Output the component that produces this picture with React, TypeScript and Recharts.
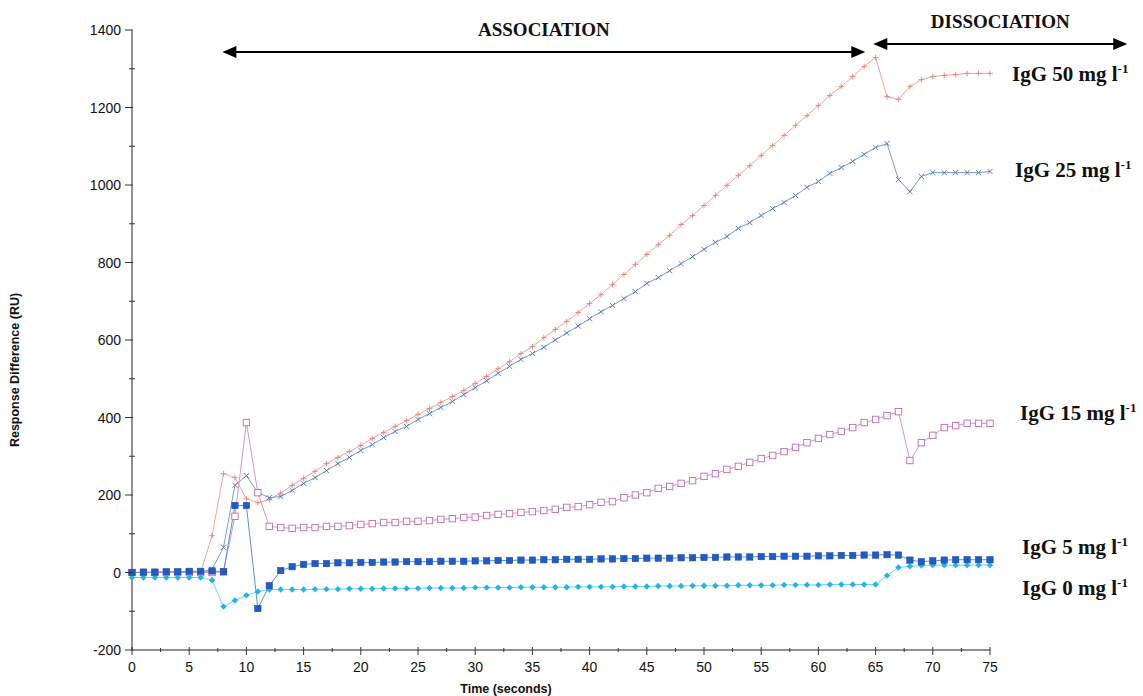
import React from 'react'
import { LineChart, Line, XAxis, YAxis, ReferenceLine } from 'recharts'

// Time axis (seconds), one sample per second
const time = [
  0, 1, 2, 3, 4, 5, 6, 7, 8, 9, 10, 11, 12, 13, 14, 15, 16, 17, 18, 19,
  20, 21, 22, 23, 24, 25, 26, 27, 28, 29, 30, 31, 32, 33, 34, 35, 36, 37, 38, 39,
  40, 41, 42, 43, 44, 45, 46, 47, 48, 49, 50, 51, 52, 53, 54, 55, 56, 57, 58, 59,
  60, 61, 62, 63, 64, 65, 66, 67, 68, 69, 70, 71, 72, 73, 74, 75,
]

// Response difference (RU) per concentration
const igg50 = [
  0, 0, 0, 0, 0, 0, 0, 95, 255, 245, 190, 180, 188,
  205, 225, 243, 261, 281, 297, 312, 328,
  346, 361, 377, 392, 408, 423, 439, 454, 470, 488,
  506, 526, 544, 565, 583, 606, 627, 648, 671, 694,
  717, 743, 769, 795, 821, 846, 870, 898, 921, 947,
  973, 999, 1025, 1050, 1076, 1102, 1128, 1154, 1179, 1205,
  1231, 1254, 1280, 1306, 1329,
  1228, 1221, 1254, 1272, 1280, 1283, 1285, 1288, 1288, 1288,
]

const igg25 = [
  0, 0, 0, 0, 0, 0, 0, 8, 65, 225, 250, 206, 193,
  196, 212, 230, 245, 263, 281, 297, 315,
  330, 348, 364, 377, 395, 410, 426, 441, 459, 477,
  495, 514, 532, 550, 565, 581, 600, 618, 636, 655,
  673, 689, 707, 725, 746, 761, 779, 797, 815, 834,
  852, 867, 888, 903, 921, 939, 955, 973, 994, 1009,
  1030, 1045, 1061, 1079, 1097,
  1107, 1014, 983, 1022, 1032, 1032, 1032, 1032, 1032, 1035,
]

const igg15 = [
  0, 0, 0, 0, 0, 0, 0, 0, 2, 145, 387, 206, 119,
  116, 114, 116, 116, 119, 119, 121, 124,
  126, 129, 129, 132, 132, 134, 137, 139, 142, 143,
  147, 150, 152, 155, 157, 160, 163, 168, 170, 175,
  181, 183, 193, 200, 206, 217, 222, 230, 237, 248,
  255, 266, 274, 284, 294, 302, 312, 323, 335, 346,
  356, 364, 374, 387, 395,
  405, 415, 289, 335, 354, 374, 379, 385, 385, 385,
]

const igg5 = [
  0, 1, 1, 2, 2, 3, 3, 4, 2, 173, 173, -93, -34,
  5, 15, 21, 23, 23, 25, 25, 26,
  26, 27, 27, 28, 28, 28, 29, 29, 29, 30,
  30, 31, 31, 32, 32, 33, 33, 34, 34, 34,
  35, 35, 36, 36, 37, 37, 37, 38, 38, 39,
  39, 40, 40, 40, 41, 41, 42, 42, 42, 43,
  43, 44, 44, 45, 45,
  46, 45, 32, 28, 30, 32, 33, 33, 33, 33,
]

const igg0 = [
  -13, -13, -13, -13, -13, -13, -13, -20, -88, -72, -59, -49, -44,
  -44, -44, -44, -43, -43, -43, -42, -42,
  -42, -41, -41, -41, -41, -40, -40, -40, -40, -39,
  -39, -39, -39, -38, -38, -38, -38, -38, -37, -37,
  -37, -37, -36, -36, -36, -35, -35, -35, -34, -34,
  -34, -34, -33, -33, -33, -33, -32, -32, -32, -32,
  -31, -31, -31, -31, -31,
  -8, 13, 16, 18, 19, 19, 19, 19, 19, 19,
]

const xTicks = [
  0, 2.5, 5, 7.5, 10, 12.5, 15, 17.5, 20, 22.5, 25, 27.5, 30, 32.5, 35, 37.5,
  40, 42.5, 45, 47.5, 50, 52.5, 55, 57.5, 60, 62.5, 65, 67.5, 70, 72.5, 75,
]
const yTicks = [
  -200, -100, 0, 100, 200, 300, 400, 500, 600, 700, 800, 900, 1000, 1100, 1200, 1300, 1400,
]

const data = time.map((t, i) => ({
  t,
  igg50: igg50[i],
  igg25: igg25[i],
  igg15: igg15[i],
  igg5: igg5[i],
  igg0: igg0[i],
}))

const LAST = time.length - 1
const SANS = "'Liberation Sans', Arial, sans-serif"
const SERIF = "'Liberation Serif', 'Times New Roman', serif"

type Shape = 'plus' | 'cross' | 'openSquare' | 'square' | 'diamond'

function Marker({ shape, cx, cy, color }: { shape: Shape; cx: number; cy: number; color: string }) {
  switch (shape) {
    case 'plus':
      return (
        <g stroke={color} strokeWidth={0.9}>
          <line x1={cx - 2.8} x2={cx + 2.8} y1={cy} y2={cy} />
          <line x1={cx} x2={cx} y1={cy - 2.8} y2={cy + 2.8} />
        </g>
      )
    case 'cross':
      return (
        <g stroke={color} strokeWidth={0.9}>
          <line x1={cx - 2.6} x2={cx + 2.6} y1={cy - 2.6} y2={cy + 2.6} />
          <line x1={cx - 2.6} x2={cx + 2.6} y1={cy + 2.6} y2={cy - 2.6} />
        </g>
      )
    case 'openSquare':
      return <rect x={cx - 3.2} y={cy - 3.2} width={6.4} height={6.4} fill="#fff" stroke={color} strokeWidth={0.9} />
    case 'square':
      return <rect x={cx - 3.2} y={cy - 3.2} width={6.4} height={6.4} fill={color} stroke="#1749a3" strokeWidth={0.5} />
    default:
      return <path d={`M${cx},${cy - 3.2}L${cx + 3.2},${cy}L${cx},${cy + 3.2}L${cx - 3.2},${cy}Z`} fill={color} />
  }
}

// dot renderer: draws the marker, and the series name next to the last point
function makeDot(shape: Shape, color: string, conc: string, dx: number, dy: number) {
  return (props: any) => {
    const { cx, cy, index } = props
    if (cx == null || cy == null) return <g key={`d-${index}`} />
    return (
      <g key={`d-${index}`}>
        <Marker shape={shape} cx={cx} cy={cy} color={color} />
        {index === LAST && (
          <text x={cx + dx} y={cy + dy} fontFamily={SERIF} fontWeight="bold" fontSize={21} fill="#111">
            {`IgG ${conc} mg l`}
            <tspan dy={-8} fontSize={13}>-1</tspan>
          </text>
        )}
      </g>
    )
  }
}

function XTick(props: any) {
  const { x, y, payload } = props
  const v = payload.value
  const major = v % 5 === 0
  return (
    <g>
      <line x1={x} x2={x} y1={y - (major ? 3 : 2)} y2={y + (major ? 5 : 2)} stroke="#333" />
      {major && (
        <text x={x} y={y + 22} textAnchor="middle" fontSize={14} fontFamily={SANS} fill="#111">
          {v}
        </text>
      )}
    </g>
  )
}

function YTick(props: any) {
  const { x, y, payload } = props
  const v = payload.value
  const major = v % 200 === 0
  return (
    <g>
      <line x1={x - (major ? 7 : 3)} x2={x + (major ? 1 : 3)} y1={y} y2={y} stroke="#333" />
      {major && (
        <text x={x - 11} y={y + 5} textAnchor="end" fontSize={14} fontFamily={SANS} fill="#111">
          {v}
        </text>
      )}
    </g>
  )
}

// double-headed phase arrow with its caption above
function phaseArrow(caption: string) {
  return (p: any) => {
    const { x1, x2, y1 } = p
    const y = y1
    const len = 14
    const half = 6
    return (
      <g>
        <line x1={x1 + len - 2} x2={x2 - len + 2} y1={y} y2={y} stroke="#000" strokeWidth={2} />
        <path d={`M${x1},${y}L${x1 + len},${y - half}L${x1 + len},${y + half}Z`} fill="#000" />
        <path d={`M${x2},${y}L${x2 - len},${y - half}L${x2 - len},${y + half}Z`} fill="#000" />
        <text x={(x1 + x2) / 2} y={y - 16} textAnchor="middle" fontFamily={SERIF} fontWeight="bold" fontSize={19} fill="#111">
          {caption}
        </text>
      </g>
    )
  }
}

export default function App() {
  return (
    <div style={{ position: 'absolute', left: 0, top: 0, width: 1143, height: 696, background: '#fff' }}>
      <LineChart width={1143} height={696} data={data} margin={{ top: 30, right: 153, bottom: 0, left: 0 }}>
        <XAxis
          dataKey="t"
          type="number"
          domain={[0, 75]}
          ticks={xTicks}
          interval={0}
          height={46}
          tickSize={0}
          tickMargin={0}
          tickLine={false}
          tick={<XTick />}
          axisLine={{ stroke: '#222', strokeWidth: 1 }}
          label={{
            content: (p: any) => {
              const vb = p.viewBox || { x: 132, y: 650, width: 858, height: 46 }
              return (
                <text x={vb.x + 374} y={vb.y + 43} textAnchor="middle" fontFamily={SANS} fontWeight="bold" fontSize={12.5} fill="#111">
                  Time (seconds)
                </text>
              )
            },
          }}
        />
        <YAxis
          type="number"
          domain={[-200, 1400]}
          ticks={yTicks}
          interval={0}
          width={132}
          tickSize={0}
          tickMargin={0}
          tickLine={false}
          tick={<YTick />}
          axisLine={{ stroke: '#222', strokeWidth: 1 }}
          label={{
            content: (p: any) => {
              const vb = p.viewBox || { x: 0, y: 30, width: 132, height: 620 }
              const cx = vb.x + 19
              const cy = vb.y + vb.height / 2 + 30
              return (
                <text x={cx} y={cy} transform={`rotate(-90 ${cx} ${cy})`} textAnchor="middle" fontFamily={SANS} fontWeight="bold" fontSize={12.5} fill="#111">
                  Response Difference (RU)
                </text>
              )
            },
          }}
        />
        <ReferenceLine
          segment={[{ x: 7.9, y: 1343 }, { x: 64.1, y: 1343 }]}
          ifOverflow="visible"
          shape={phaseArrow('ASSOCIATION')}
        />
        <ReferenceLine
          segment={[{ x: 64.8, y: 1364 }, { x: 87, y: 1364 }]}
          ifOverflow="visible"
          shape={phaseArrow('DISSOCIATION')}
        />
        <Line
          dataKey="igg50"
          stroke="#f5a397"
          strokeWidth={1}
          dot={makeDot('plus', '#ef7f70', '50', 22, 8)}
          activeDot={false}
          isAnimationActive={false}
        />
        <Line
          dataKey="igg25"
          stroke="#7a9ad8"
          strokeWidth={1}
          dot={makeDot('cross', '#4b6fc2', '25', 25, 6)}
          activeDot={false}
          isAnimationActive={false}
        />
        <Line
          dataKey="igg15"
          stroke="#d895c6"
          strokeWidth={1}
          dot={makeDot('openSquare', '#c46aa9', '15', 30, -3)}
          activeDot={false}
          isAnimationActive={false}
        />
        <Line
          dataKey="igg0"
          stroke="#6fd0f2"
          strokeWidth={1}
          dot={makeDot('diamond', '#1fb4ea', '0', 32, 30)}
          activeDot={false}
          isAnimationActive={false}
        />
        <Line
          dataKey="igg5"
          stroke="#5a90de"
          strokeWidth={1}
          dot={makeDot('square', '#1f5cc8', '5', 32, -6)}
          activeDot={false}
          isAnimationActive={false}
        />
      </LineChart>
    </div>
  )
}
